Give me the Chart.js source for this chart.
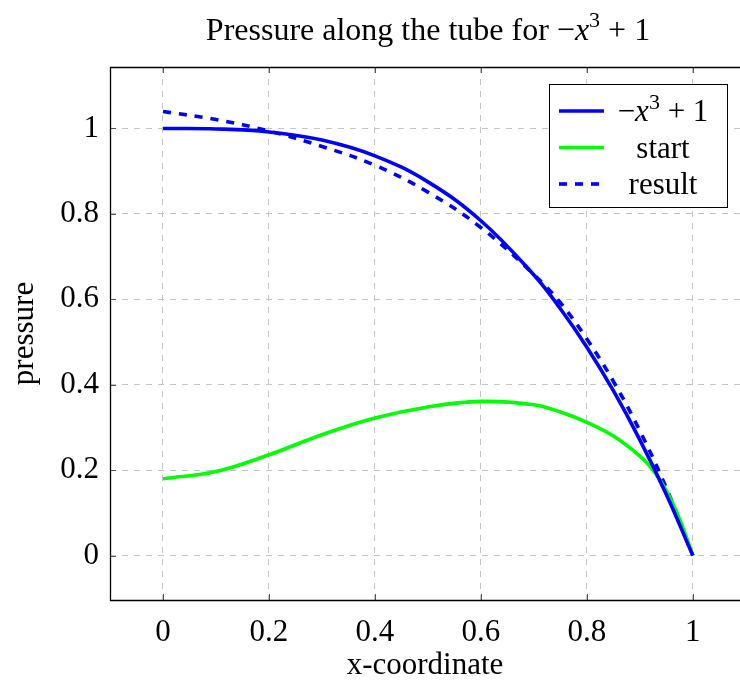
<!DOCTYPE html>
<html>
<head>
<meta charset="utf-8">
<script src="https://cdn.jsdelivr.net/npm/chart.js@4.4.1/dist/chart.umd.min.js"></script>
<style>
  html, body { margin: 0; padding: 0; background: #fff; overflow: hidden; }
</style>
</head>
<body>
<canvas id="pressureChart" width="740" height="684"></canvas>
<script>
// values
const xExact = [0, 0.1, 0.2, 0.3, 0.4, 0.5, 0.6, 0.7, 0.75, 0.8, 0.85, 0.9, 0.95, 1];
const pExact = [1, 0.999, 0.992, 0.973, 0.936, 0.875, 0.784, 0.657, 0.578, 0.488, 0.386, 0.271, 0.143, 0];

const xStart = [0, 0.1, 0.2, 0.3, 0.4, 0.5, 0.6, 0.7, 0.75, 0.8, 0.85, 0.9, 0.925, 0.95, 0.975, 1];
const pStart = [0.18, 0.197, 0.236, 0.283, 0.322, 0.348, 0.361, 0.353, 0.336, 0.312, 0.28, 0.233, 0.2, 0.152, 0.085, 0];

const xResult = [0, 0.1, 0.2, 0.3, 0.4, 0.5, 0.6, 0.7, 0.75, 0.8, 0.85, 0.9, 0.95, 1];
const pResult = [1.04, 1.021, 0.994, 0.958, 0.914, 0.851, 0.768, 0.658, 0.592, 0.507, 0.408, 0.292, 0.158, 0];

const xTicks = [0, 0.2, 0.4, 0.6, 0.8, 1];
const xTickLabels = ['0', '0.2', '0.4', '0.6', '0.8', '1'];
const yTicks = [0, 0.2, 0.4, 0.6, 0.8, 1];
const yTickLabels = ['0', '0.2', '0.4', '0.6', '0.8', '1'];

const seriesLabels = ['-x^3+1', 'start', 'result'];

const FONT = '"Liberation Serif", "Times New Roman", serif';
const SIZE = 31;

function pts(xs, ys) {
    return xs.map((x, i) => ({ x: x, y: ys[i] }));
}

// a math-ish label: -x^3+1 with italic x and raised 3
function mathParts(size) {
    return [
        { t: '\u2212', f: size + 'px ' + FONT, dy: 0 },
        { t: 'x', f: 'italic ' + size + 'px ' + FONT, dy: 0 },
        { t: '3', f: Math.round(size * 0.7) + 'px ' + FONT, dy: -Math.round(size * 0.4) },
        { t: ' + 1', f: size + 'px ' + FONT, dy: 0 }
    ];
}

function drawParts(ctx, parts, cx, baseline) {
    let w = 0;
    parts.forEach(p => { ctx.font = p.f; w += ctx.measureText(p.t).width; });
    let x = cx - w / 2;
    ctx.textAlign = 'left';
    ctx.textBaseline = 'alphabetic';
    parts.forEach(p => {
        ctx.font = p.f;
        ctx.fillText(p.t, x, baseline + p.dy);
        x += ctx.measureText(p.t).width;
    });
}

function labelParts(label) {
    if (label === '-x^3+1') return mathParts(SIZE);
    return [{ t: label, f: SIZE + 'px ' + FONT, dy: 0 }];
}

// frame, inward ticks, legend and title
const decorPlugin = {
    id: 'decor',
    afterDatasetsDraw(chart) {
        const ctx = chart.ctx;
        const a = chart.chartArea;
        const xs = chart.scales.x;
        const ys = chart.scales.y;
        ctx.save();
        ctx.strokeStyle = '#555';
        ctx.lineWidth = 1;
        xTicks.forEach(v => {
            const px = Math.round(xs.getPixelForValue(v)) + 0.5;
            ctx.beginPath();
            ctx.moveTo(px, a.bottom); ctx.lineTo(px, a.bottom - 6);
            ctx.moveTo(px, a.top); ctx.lineTo(px, a.top + 6);
            ctx.stroke();
        });
        yTicks.forEach(v => {
            const py = Math.round(ys.getPixelForValue(v)) + 0.5;
            ctx.beginPath();
            ctx.moveTo(a.left, py); ctx.lineTo(a.left + 6, py);
            ctx.stroke();
        });
        // the right side of the frame falls just outside the picture
        ctx.strokeStyle = '#000';
        ctx.lineWidth = 1.3;
        ctx.beginPath();
        ctx.moveTo(a.right, a.top + 0.5);
        ctx.lineTo(a.left + 0.5, a.top + 0.5);
        ctx.lineTo(a.left + 0.5, a.bottom + 0.5);
        ctx.lineTo(a.right, a.bottom + 0.5);
        ctx.stroke();

        // legend box in the upper right corner
        const bx = 549, by = 84, bw = 178, bh = 123;
        ctx.fillStyle = '#fff';
        ctx.fillRect(bx, by, bw, bh);
        ctx.strokeStyle = '#000';
        ctx.lineWidth = 1;
        ctx.strokeRect(bx + 0.5, by + 0.5, bw, bh);
        chart.data.datasets.forEach((ds, i) => {
            const ry = by + 27 + i * 36.5;
            ctx.strokeStyle = ds.borderColor;
            ctx.lineWidth = ds.borderWidth;
            ctx.setLineDash(ds.borderDash || []);
            ctx.beginPath();
            ctx.moveTo(bx + 10, ry); ctx.lineTo(bx + 55, ry);
            ctx.stroke();
            ctx.setLineDash([]);
            ctx.fillStyle = '#000';
            drawParts(ctx, labelParts(ds.label), bx + 114, ry + 10);
        });
        ctx.restore();
    },
    afterDraw(chart) {
        const ctx = chart.ctx;
        ctx.save();
        ctx.fillStyle = '#000';
        const parts = [{ t: 'Pressure along the tube for ', f: '32px ' + FONT, dy: 0 }].concat(mathParts(32));
        drawParts(ctx, parts, 428, 40);
        ctx.restore();
    }
};

const ctxPressure = document.getElementById('pressureChart').getContext('2d');

const pressureChart = new Chart(ctxPressure, {
    type: 'line',
    data: {
        datasets: [{
            label: seriesLabels[0],
            data: pts(xExact, pExact),
            borderColor: '#0000ff',
            borderWidth: 3.6
        }, {
            label: seriesLabels[1],
            data: pts(xStart, pStart),
            borderColor: '#00ff00',
            borderWidth: 3.6
        }, {
            label: seriesLabels[2],
            data: pts(xResult, pResult),
            borderColor: '#0000ff',
            borderWidth: 3.6,
            borderDash: [8, 8]
        }]
    },
    options: {
        responsive: false,
        animation: false,
        devicePixelRatio: 1,
        elements: {
            point: { radius: 0 },
            line: { tension: 0.4, fill: false }
        },
        layout: { padding: { top: 67, left: 0, right: 0, bottom: 0 } },
        plugins: {
            legend: { display: false },
            title: { display: false },
            tooltip: { enabled: false }
        },
        scales: {
            x: {
                type: 'linear',
                min: -0.1,
                max: 1.089,
                afterBuildTicks: (scale) => { scale.ticks = xTicks.map(v => ({ value: v })); },
                afterFit: (scale) => { scale.height = 84; },
                ticks: {
                    callback: (value, i) => xTickLabels[i],
                    font: { family: FONT, size: SIZE },
                    color: '#000',
                    padding: 14,
                    maxRotation: 0
                },
                grid: { color: '#c4c4c4', lineWidth: 1, drawTicks: false },
                border: { display: false, dash: [6, 6] },
                title: {
                    display: true,
                    text: 'x-coordinate',
                    font: { family: FONT, size: SIZE },
                    color: '#000',
                    padding: { top: 0, bottom: 0 }
                }
            },
            y: {
                type: 'linear',
                min: -0.104,
                max: 1.144,
                afterBuildTicks: (scale) => { scale.ticks = yTicks.map(v => ({ value: v })); },
                afterFit: (scale) => { scale.width = 110; },
                ticks: {
                    callback: (value, i) => yTickLabels[i],
                    font: { family: FONT, size: SIZE },
                    color: '#000',
                    padding: 11
                },
                grid: { color: '#c4c4c4', lineWidth: 1, drawTicks: false },
                border: { display: false, dash: [6, 6] },
                title: {
                    display: true,
                    text: 'pressure',
                    font: { family: FONT, size: SIZE },
                    color: '#000',
                    padding: { top: 6, bottom: 0 }
                }
            }
        }
    },
    plugins: [decorPlugin]
});
</script>
</body>
</html>
